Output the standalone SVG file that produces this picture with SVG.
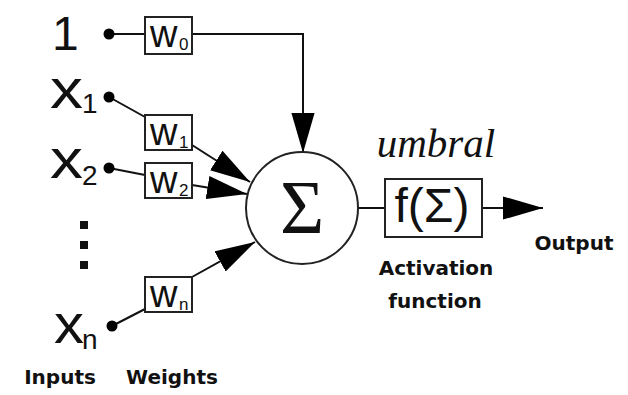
<svg xmlns="http://www.w3.org/2000/svg" width="628" height="395" viewBox="0 0 628 395">
<style>
.ln{stroke:#111;stroke-width:2;fill:none}
.box{stroke:#222;stroke-width:2;fill:#fff}
.sym{font-family:"Liberation Sans",Arial,sans-serif;fill:#111}
.lbl{font-family:"DejaVu Sans",sans-serif;font-weight:bold;font-size:20px;fill:#111}
</style>
<defs>
<marker id="ah" markerUnits="userSpaceOnUse" markerWidth="40" markerHeight="24" viewBox="0 0 38 22" refX="38" refY="11" orient="auto">
<path d="M0,0 L38,11 L0,22 Z" fill="#000"/>
</marker>
</defs>
<rect width="628" height="395" fill="#fff"/>
<g id="connectors">
<line class="ln" x1="109" y1="34" x2="145" y2="34"/>
<polyline class="ln" points="192,34 303,34 303,153" marker-end="url(#ah)"/>
<line class="ln" x1="109" y1="97" x2="145" y2="117"/>
<line class="ln" x1="192" y1="145" x2="250" y2="182" marker-end="url(#ah)"/>
<line class="ln" x1="109" y1="168" x2="145" y2="175"/>
<line class="ln" x1="192" y1="185" x2="247" y2="194" marker-end="url(#ah)"/>
<line class="ln" x1="112" y1="326" x2="145" y2="309"/>
<line class="ln" x1="192" y1="277" x2="255" y2="242" marker-end="url(#ah)"/>
<line class="ln" x1="358" y1="208" x2="385" y2="208"/>
<line class="ln" x1="482" y1="208" x2="543" y2="208" marker-end="url(#ah)"/>
</g>
<g id="in1">
<text class="sym" x="52" y="50" font-size="48">1</text>
<circle cx="109" cy="34" r="5.5" fill="#000"/>
</g>
<g id="x1">
<text class="sym" x="50" y="108" font-size="55" textLength="33" lengthAdjust="spacingAndGlyphs">x</text>
<text class="sym" x="82" y="113" font-size="28">1</text>
<circle cx="109" cy="97" r="5.5" fill="#000"/>
</g>
<g id="x2">
<text class="sym" x="50" y="178" font-size="55" textLength="33" lengthAdjust="spacingAndGlyphs">x</text>
<text class="sym" x="82" y="185" font-size="28">2</text>
<circle cx="109" cy="168" r="5.5" fill="#000"/>
</g>
<g id="dots">
<rect x="80" y="221" width="8" height="8" fill="#111"/>
<rect x="80" y="241" width="8" height="8" fill="#111"/>
<rect x="80" y="261" width="8" height="8" fill="#111"/>
</g>
<g id="xn">
<text class="sym" x="54" y="343" font-size="55" textLength="30" lengthAdjust="spacingAndGlyphs">x</text>
<text class="sym" x="82" y="349" font-size="28">n</text>
<circle cx="112" cy="326" r="5.5" fill="#000"/>
</g>
<g id="w0">
<rect class="box" x="145" y="17" width="47" height="37"/>
<text class="sym" x="150" y="47" font-size="38">w</text>
<text class="sym" x="179" y="50" font-size="17">0</text>
</g>
<g id="w1">
<rect class="box" x="145" y="115" width="47" height="35"/>
<text class="sym" x="150" y="145" font-size="38">w</text>
<text class="sym" x="179" y="148" font-size="17">1</text>
</g>
<g id="w2">
<rect class="box" x="145" y="163" width="47" height="35"/>
<text class="sym" x="150" y="193" font-size="38">w</text>
<text class="sym" x="179" y="196" font-size="17">2</text>
</g>
<g id="wn">
<rect class="box" x="145" y="277" width="47" height="35"/>
<text class="sym" x="150" y="307" font-size="38">w</text>
<text class="sym" x="179" y="310" font-size="17">n</text>
</g>
<g id="sum">
<circle cx="302" cy="208" r="56" fill="#fff" stroke="#222" stroke-width="2"/>
<text x="302" y="233" font-family="Liberation Serif, Times New Roman, serif" font-size="76" text-anchor="middle" fill="#111">Σ</text>
</g>
<g id="umbral">
<text x="436" y="157" font-family="Liberation Serif, Times New Roman, serif" font-style="italic" font-size="41" text-anchor="middle" fill="#111">umbral</text>
</g>
<g id="activation">
<rect class="box" x="385" y="179" width="97" height="58"/>
<text class="sym" x="432" y="222" font-size="48" text-anchor="middle">f(Σ)</text>
<text class="lbl" x="436" y="275" text-anchor="middle">Activation</text>
<text class="lbl" x="435" y="308" text-anchor="middle">function</text>
</g>
<g id="output">
<text class="lbl" x="574" y="250" text-anchor="middle">Output</text>
</g>
<g id="labels">
<text class="lbl" x="60" y="384" text-anchor="middle">Inputs</text>
<text class="lbl" x="172" y="384" text-anchor="middle">Weights</text>
</g>
</svg>
